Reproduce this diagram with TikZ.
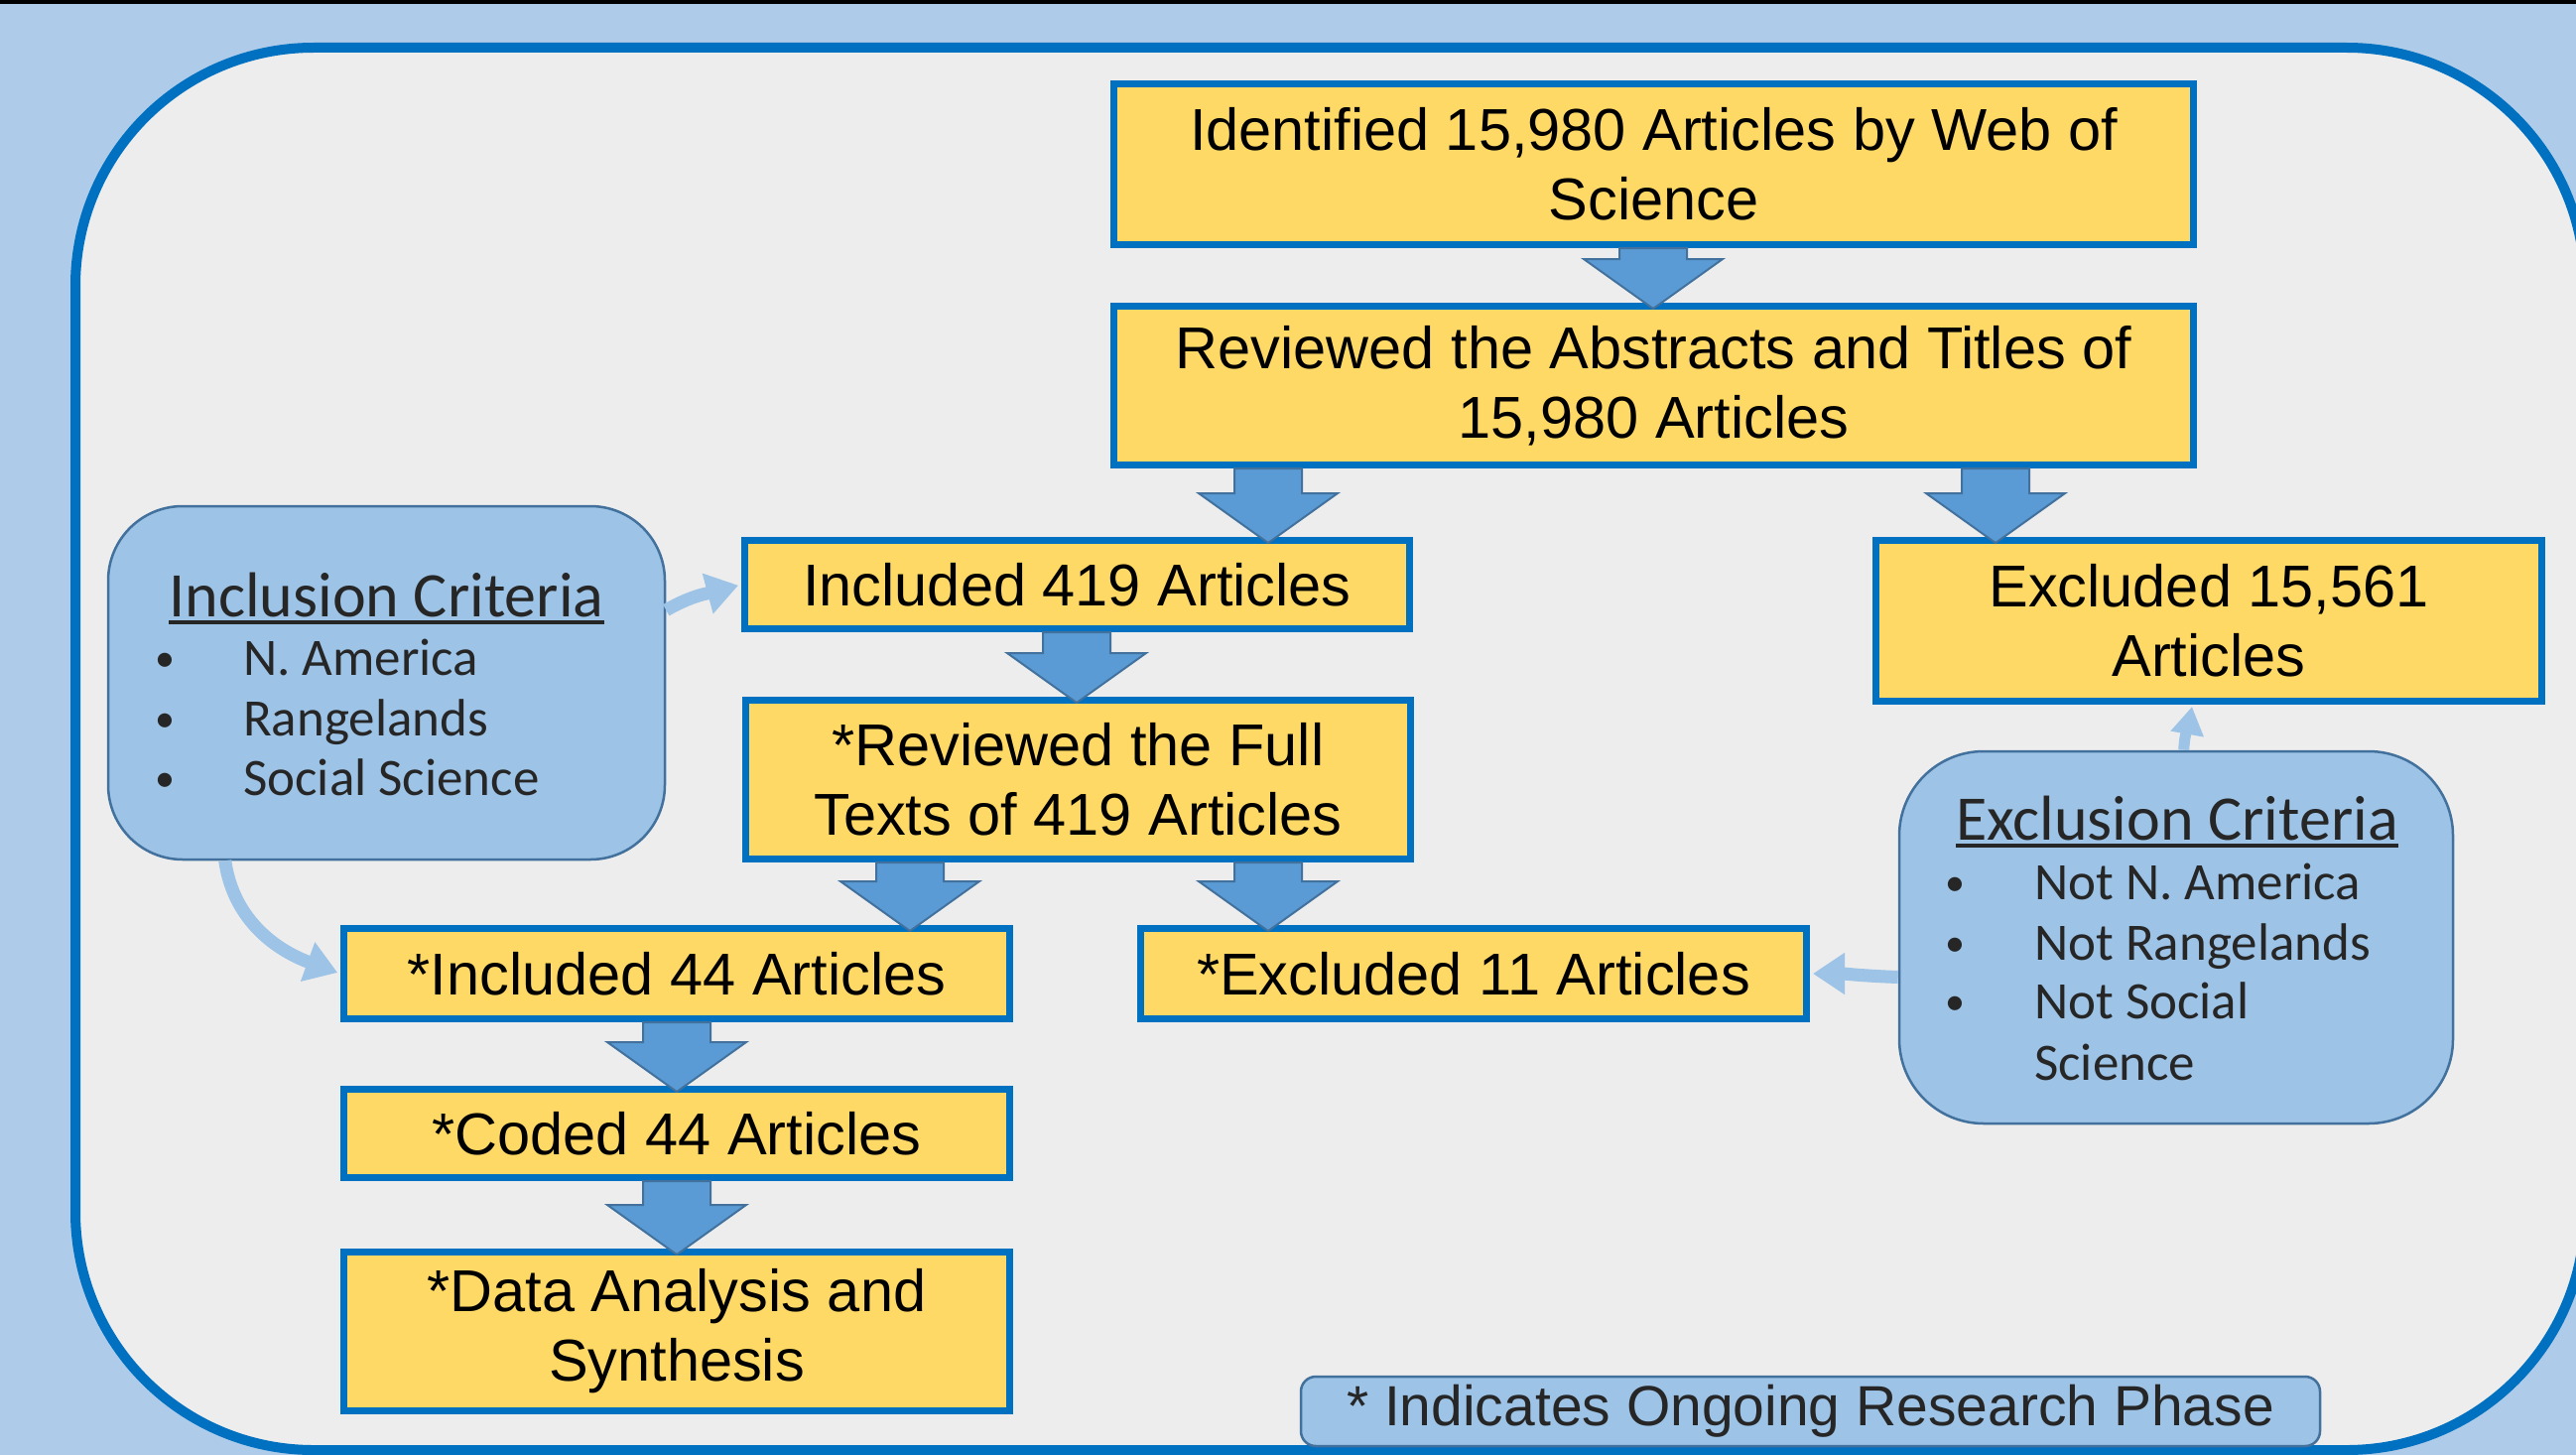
\documentclass[tikz,border=0pt]{standalone}
\usepackage{fontspec}
\setmainfont{Liberation Sans}
\newfontfamily\critfont{Carlito}
\usetikzlibrary{arrows.meta,calc}
\definecolor{bgblue}{RGB}{174,204,233}
\definecolor{panel}{RGB}{237,237,237}
\definecolor{frameblue}{RGB}{0,112,192}
\definecolor{boxfill}{RGB}{255,217,102}
\definecolor{arrowfill}{RGB}{91,155,213}
\definecolor{arrowedge}{RGB}{65,113,156}
\definecolor{critfill}{RGB}{157,195,230}
\definecolor{critedge}{RGB}{65,113,156}
\definecolor{crittext}{RGB}{38,38,38}
\newcommand\myul[1]{\setbox0\hbox{#1}\rlap{\vrule height -4pt depth 7.5pt width \wd0}\box0}
\newcommand\mybullet{\makebox[0pt]{\raisebox{4pt}{\fontsize{40}{40}\selectfont •}}}
% block arrow pointing down: #1 start (top), #2 tip
\newcommand\blockdown[2]{%
  \path[fill=arrowfill, draw=arrowedge, line width=2pt] let \p1=#1, \p2=#2 in
   (\x1-34pt,\y1) -- (\x1+34pt,\y1) -- (\x1+34pt,\y2+44pt) -- (\x1+70pt,\y2+44pt)
   -- (\x1,\y2-6pt) -- (\x1-70pt,\y2+44pt) -- (\x1-34pt,\y2+44pt) -- cycle;}
\tikzset{
  stagebox/.style={draw=frameblue, line width=7pt, fill=boxfill, inner sep=0pt,
    align=center, font=\fontsize{59.5}{70}\selectfont, text=black},
  critbox/.style={draw=critedge, line width=2.5pt, fill=critfill},
  crithead/.style={font=\critfont\fontsize{64}{70}\selectfont, text=crittext, inner sep=0pt, anchor=base},
  crititem/.style={font=\critfont\fontsize{53}{61}\selectfont, text=crittext, inner sep=0pt, anchor=base west},
  lightarrow/.style={draw=critfill, line width=13pt, -{Triangle[width=40pt,length=32pt]}},
}
\begin{document}
\begin{tikzpicture}[x=1pt,y=-1pt]
\useasboundingbox (0,0) rectangle (2596,1466);
\clip (0,0) rectangle (2596,1466);
\fill[bgblue] (0,0) rectangle (2596,1466);
\fill[black] (0,0) rectangle (2596,4);
\draw[frameblue, fill=panel, line width=10pt, rounded corners=240pt] (76,48) rectangle (2605,1461);

% stage boxes
\node[stagebox, minimum width=1088pt, minimum height=162pt] (b1) at (1666.5,165.5) {Identified 15,980 Articles by Web of\\Science};
\node[stagebox, minimum width=1088pt, minimum height=160pt] (b2) at (1666.5,388.5) {Reviewed the Abstracts and Titles of\\15,980 Articles};
\node[stagebox, minimum width=670pt, minimum height=89pt] (inc419) at (1085.5,589) {Included 419 Articles};
\node[stagebox, minimum width=671pt, minimum height=162pt] (exc15561) at (2226,625.5) {Excluded 15,561\\Articles};
\node[stagebox, minimum width=670pt, minimum height=160pt] (full) at (1086.5,785.5) {*Reviewed the Full\\Texts of 419 Articles};
\node[stagebox, minimum width=671pt, minimum height=91pt] (inc44) at (682,981) {*Included 44 Articles};
\node[stagebox, minimum width=671pt, minimum height=91pt] (exc11) at (1485,981) {*Excluded 11 Articles};
\node[stagebox, minimum width=671pt, minimum height=89pt] (coded) at (682,1142) {*Coded 44 Articles};
\node[stagebox, minimum width=671pt, minimum height=160pt] (data) at (682,1341.5) {*Data Analysis and\\Synthesis};

% criteria boxes
\node[critbox, rounded corners=75pt, minimum width=561pt, minimum height=356pt] (incl) at (389.5,688) {};
\node[crithead] (inchead) at (389.5,621) {\myul{Inclusion Criteria}};
\node[crititem] (inc1) at (166,680) {\mybullet\hspace{79pt}N. America};
\node[crititem] (inc2) at (166,741) {\mybullet\hspace{79pt}Rangelands};
\node[crititem] (inc3) at (166,801) {\mybullet\hspace{79pt}Social Science};

\node[critbox, rounded corners=85pt, minimum width=558pt, minimum height=375pt] (excl) at (2193,944.5) {};
\node[crithead] (exchead) at (2194,846) {\myul{Exclusion Criteria}};
\node[crititem] (exc1) at (1970,906) {\mybullet\hspace{80pt}Not N. America};
\node[crititem] (exc2) at (1970,967) {\mybullet\hspace{80pt}Not Rangelands};
\node[crititem] (exc3) at (1970,1026) {\mybullet\hspace{80pt}Not Social};
\node[crititem] (exc3b) at (2050,1088) {Science};

% footnote
\node[draw=critedge, line width=2.5pt, fill=critfill, rounded corners=15pt,
  minimum width=1027pt, minimum height=70pt, inner sep=0pt,
  font=\fontsize{57}{60}\selectfont, text=crittext] (note) at (1824.5,1422) {* Indicates Ongoing Research Phase};

% block arrows
\coordinate (ax1) at (1666,0);
\coordinate (ax2) at (1278,0);
\coordinate (ax3) at (2011,0);
\coordinate (ax4) at (1085,0);
\coordinate (ax5) at (917,0);
\coordinate (ax7) at (682,0);
\blockdown{(b1.south -| ax1)}{(b2.north -| ax1)}
\blockdown{(b2.south -| ax2)}{(inc419.north -| ax2)}
\blockdown{(b2.south -| ax3)}{(exc15561.north -| ax3)}
\blockdown{(inc419.south -| ax4)}{(full.north -| ax4)}
\blockdown{(full.south -| ax5)}{(inc44.north -| ax5)}
\blockdown{(full.south -| ax2)}{(exc11.north -| ax2)}
\blockdown{(inc44.south -| ax7)}{(coded.north -| ax7)}
\blockdown{(coded.south -| ax7)}{(data.north -| ax7)}

% light arrows from criteria
\draw[lightarrow, shorten >=3pt] ($(incl.north east)+(0,106)$) to[out=30,in=195] (inc419.west);
\draw[lightarrow, shorten >=3pt] ($(incl.south west)+(119,0)$) to[out=-82,in=160] (inc44.west);
\draw[draw=critfill, line width=11pt, -{Triangle[width=32pt,length=28pt]}] ($(excl.north west)+(288,0)$) to[out=88,in=-100] ($(exc15561.south west)+(322,2)$);
\draw[lightarrow, shorten >=3pt] ($(excl.west)+(0,40)$) to[out=178,in=0] (exc11.east);
\end{tikzpicture}
\end{document}
